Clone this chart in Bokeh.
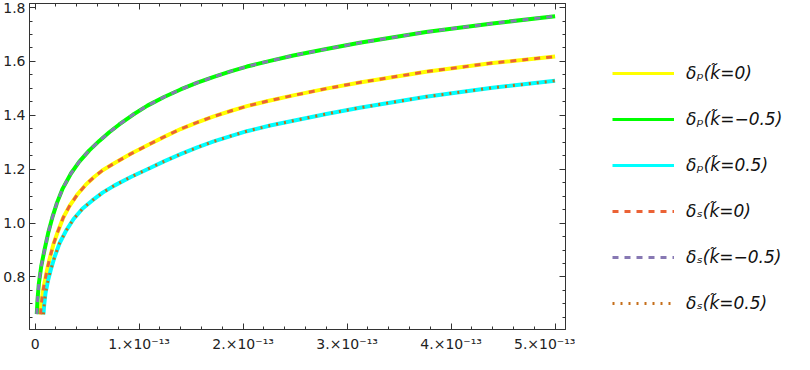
from bokeh.plotting import figure
from bokeh.layouts import row
from bokeh.models import (Range1d, LinearAxis, FixedTicker, CustomJSTickFormatter,
                          Legend, LegendItem)
from bokeh.embed import file_html
from bokeh.resources import INLINE

# x in units of 1e-13
x_k0 = [0.052, 0.060, 0.072, 0.090, 0.115, 0.138, 0.175, 0.218, 0.270, 0.330, 0.410,
        0.489, 0.570, 0.649, 0.761, 0.920, 1.080, 1.240, 1.399, 1.560, 1.718, 1.880,
        2.036, 2.260, 2.483, 2.800, 3.121, 3.759, 4.397, 5.000]
y_k0 = [0.661, 0.700, 0.740, 0.778, 0.826, 0.865, 0.920, 0.968, 1.020, 1.063, 1.108,
        1.143, 1.172, 1.196, 1.222, 1.257, 1.289, 1.320, 1.349, 1.374, 1.396, 1.416,
        1.434, 1.455, 1.474, 1.499, 1.522, 1.562, 1.594, 1.618]

x_km05 = [0.016, 0.023, 0.036, 0.059, 0.090, 0.125, 0.165, 0.210, 0.265, 0.346, 0.425,
          0.521, 0.617, 0.713, 0.809, 0.940, 1.080, 1.240, 1.399, 1.560, 1.718, 1.880,
          2.036, 2.260, 2.483, 2.800, 3.121, 3.759, 4.397, 5.000]
y_km05 = [0.662, 0.715, 0.776, 0.840, 0.900, 0.962, 1.020, 1.075, 1.128, 1.185, 1.228,
          1.270, 1.305, 1.337, 1.366, 1.402, 1.436, 1.468, 1.496, 1.521, 1.543, 1.563,
          1.581, 1.602, 1.622, 1.646, 1.669, 1.709, 1.741, 1.768]

x_kp05 = [0.080, 0.088, 0.100, 0.123, 0.150, 0.187, 0.235, 0.298, 0.370, 0.457, 0.550,
          0.649, 0.761, 0.920, 1.080, 1.240, 1.399, 1.560, 1.718, 1.880, 2.036, 2.260,
          2.483, 2.800, 3.121, 3.759, 4.397, 5.000]
y_kp05 = [0.661, 0.700, 0.740, 0.785, 0.826, 0.874, 0.925, 0.972, 1.015, 1.054, 1.084,
          1.113, 1.139, 1.171, 1.200, 1.229, 1.256, 1.281, 1.303, 1.323, 1.341, 1.362,
          1.380, 1.405, 1.428, 1.469, 1.502, 1.528]

# delta_s curves coincide with delta_p curves
ys_k0 = list(y_k0)
ys_km05 = list(y_km05)
ys_kp05 = list(y_kp05)

x_major = [0, 1, 2, 3, 4, 5]
y_major = [0.8, 1.0, 1.2, 1.4, 1.6, 1.8]

labels = ["δₚ(k̃=0)", "δₚ(k̃=−0.5)", "δₚ(k̃=0.5)",
          "δₛ(k̃=0)", "δₛ(k̃=−0.5)", "δₛ(k̃=0.5)"]

FONT = "DejaVu Sans"
FRAME = "#333333"

styles = [
    dict(line_color="#FFFF00", line_width=4),
    dict(line_color="#00FF00", line_width=4),
    dict(line_color="#00FFFF", line_width=4),
    dict(line_color="#EB6235", line_width=3, line_dash="6 6"),
    dict(line_color="#8778B3", line_width=3, line_dash="6 6"),
    dict(line_color="#C56E1A", line_width=3, line_dash="2 6"),
]

p = figure(width=575, height=354, output_backend="svg", toolbar_location=None,
           x_range=Range1d(-0.054, 5.10), y_range=Range1d(0.605, 1.815),
           min_border_left=27, min_border_top=3, min_border_bottom=24,
           min_border_right=10, x_axis_location=None, y_axis_location=None)
p.xgrid.visible = False
p.ygrid.visible = False
p.outline_line_color = FRAME
p.background_fill_color = "white"
p.border_fill_color = "white"

x_minor = [round(i * 0.2, 1) for i in range(26)]
y_minor = [round(0.6 + i * 0.05, 2) for i in range(25)]

def make_axis(major, minor, fmt_code, show):
    ax = LinearAxis(ticker=FixedTicker(ticks=major, minor_ticks=minor),
                    formatter=CustomJSTickFormatter(code=fmt_code))
    ax.axis_line_color = FRAME
    ax.major_tick_line_color = FRAME
    ax.minor_tick_line_color = FRAME
    ax.major_tick_in = 6
    ax.major_tick_out = 0
    ax.minor_tick_in = 3
    ax.minor_tick_out = 0
    ax.major_label_text_font = FONT
    ax.major_label_text_font_size = "14px" if show else "1px"
    ax.major_label_text_color = "#222222"
    if not show:
        ax.major_label_standoff = 0
    return ax

xfmt = "return tick == 0 ? '0' : Math.round(tick) + '.×10⁻¹³';"
yfmt = "return tick.toFixed(1);"
blank = "return '';"

xb = make_axis(x_major, x_minor, xfmt, True)
xb.major_label_standoff = 6
yl = make_axis(y_major, y_minor, yfmt, True)
yl.major_label_standoff = 4
xt = make_axis(x_major, x_minor, blank, False)
yr = make_axis(y_major, y_minor, blank, False)
p.add_layout(xb, "below")
p.add_layout(yl, "left")
p.add_layout(xt, "above")
p.add_layout(yr, "right")

xs = [x_k0, x_km05, x_kp05, x_k0, x_km05, x_kp05]
ys = [y_k0, y_km05, y_kp05, ys_k0, ys_km05, ys_kp05]
for xv, yv, st in zip(xs, ys, styles):
    p.line(xv, yv, **st)

# legend panel (proxy lines lie outside its visible range)
q = figure(width=219, height=354, output_backend="svg", toolbar_location=None,
           x_range=Range1d(0, 1), y_range=Range1d(0, 1),
           min_border_left=0, min_border_right=0, min_border_top=0,
           min_border_bottom=0, x_axis_location=None, y_axis_location=None)
q.xgrid.visible = False
q.ygrid.visible = False
q.outline_line_color = None
q.border_fill_color = "white"

proxy_x = [-10, -9]
proxy_y = [-10, -10]
leg_styles = [dict(st, line_width=3) for st in styles]
leg_renderers = [q.line(proxy_x, proxy_y, **st) for st in leg_styles]
items = [LegendItem(label=lab, renderers=[r]) for lab, r in zip(labels, leg_renderers)]
legend = Legend(items=items, location=(37, 15), orientation="vertical",
                glyph_width=62, glyph_height=22, label_height=22, spacing=24,
                label_standoff=12, padding=0, margin=0,
                border_line_color=None, background_fill_alpha=0,
                label_text_font=FONT, label_text_font_size="17px",
                label_text_font_style="italic", label_text_color="#111111")
q.add_layout(legend, "center")

layout = row(p, q)
open("out.html", "w").write(file_html(layout, INLINE))
